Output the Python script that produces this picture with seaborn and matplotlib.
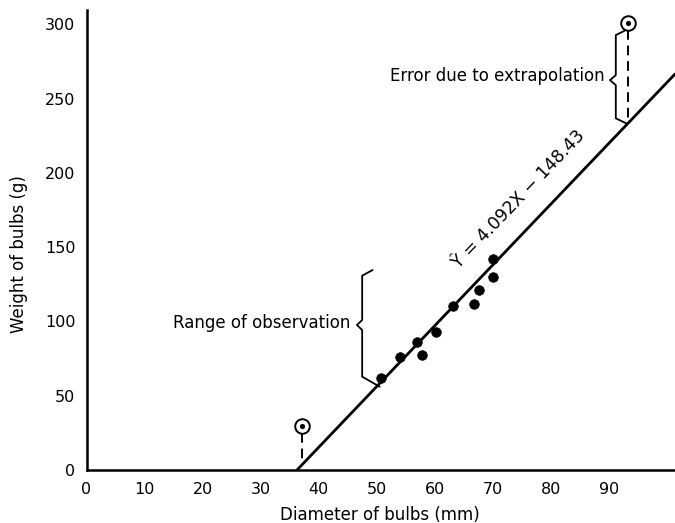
import numpy as np
import pandas as pd
import matplotlib
matplotlib.use("Agg")
import matplotlib.pyplot as plt
import seaborn as sns

# Observed bulbs: diameter (mm) and weight (g)
diameter_mm = [50.8, 54.0, 56.9, 57.8, 60.2, 63.1, 66.7, 67.7, 70.0, 70.0]
weight_g = [61.7, 76.2, 85.9, 77.4, 92.7, 110.6, 111.7, 121.1, 129.7, 142.0]

# Fitted regression  Y^ = 4.092 X - 148.43
slope = 4.092
intercept = -148.43

# Bulbs outside the observed range (circled)
outside_diameter = [37.2, 93.3]
outside_weight = [29.8, 301.0]

x_ticks = [0, 10, 20, 30, 40, 50, 60, 70, 80, 90]
y_ticks = [0, 50, 100, 150, 200, 250, 300]
x_limits = [0, 101.4]
y_limits = [0, 309.6]

# Brace outlines: (x, y) vertices
range_brace_x = [49.3, 47.5, 47.5, 46.6, 47.5, 47.5, 50.5]
range_brace_y = [134.6, 130.8, 101.0, 97.6, 94.2, 62.8, 56.1]
extrap_brace_x = [92.7, 91.2, 91.2, 90.2, 91.2, 91.2, 93.0]
extrap_brace_y = [295.6, 292.7, 265.8, 262.4, 259.0, 236.7, 233.3]

sns.set_style("white")
plt.rcParams["font.family"] = ["DejaVu Sans"]
for key in ["text.color", "axes.labelcolor", "xtick.color", "ytick.color"]:
    plt.rcParams[key] = "black"

fig = plt.figure(figsize=(6.75, 5.23), dpi=100)
ax = fig.add_axes([86.5 / 675, 53 / 523, 588.5 / 675, 460 / 523])

ax.set_xlim(*x_limits)
ax.set_ylim(*y_limits)

# Regression line from its x-intercept to the right edge
x_start = -intercept / slope
line_x = np.array([x_start, x_limits[1]])
line_df = pd.DataFrame({"x": line_x, "y": slope * line_x + intercept})
sns.lineplot(data=line_df, x="x", y="y", color="black", linewidth=2.0,
             ax=ax, legend=False)

# Observed points
obs = pd.DataFrame({"diameter": diameter_mm, "weight": weight_g})
sns.scatterplot(data=obs, x="diameter", y="weight", color="black", s=48,
                edgecolor="black", linewidth=0.5, ax=ax, zorder=5)

# Circled points beyond the range, with dashed drops to the fitted line
out = pd.DataFrame({"diameter": outside_diameter, "weight": outside_weight})
sns.scatterplot(data=out, x="diameter", y="weight", marker="o", s=110,
                facecolor="white", edgecolor="black", linewidth=1.4,
                ax=ax, zorder=6)
sns.scatterplot(data=out, x="diameter", y="weight", color="black", s=14,
                edgecolor="black", linewidth=0, ax=ax, zorder=7)
for xd, yd in zip(outside_diameter, outside_weight):
    y_fit = slope * xd + intercept
    ax.plot([xd, xd], [yd - 5.0, y_fit], color="black", linewidth=1.4,
            linestyle=(0, (5, 3)), zorder=4)

# Braces
ax.plot(range_brace_x, range_brace_y, color="black", linewidth=1.3,
        solid_joinstyle="round")
ax.plot(extrap_brace_x, extrap_brace_y, color="black", linewidth=1.3,
        solid_joinstyle="round")

ax.text(45.4, 98.9, "Range of observation", ha="right", va="center",
        fontsize=12)
ax.text(89.3, 265.1, "Error due to extrapolation", ha="right", va="center",
        fontsize=12)

# Equation written along the fitted line
p0 = ax.transData.transform((50, slope * 50 + intercept))
p1 = ax.transData.transform((100, slope * 100 + intercept))
angle = np.degrees(np.arctan2(p1[1] - p0[1], p1[0] - p0[0]))
x_lab = 77.8
ax.annotate("Ŷ = 4.092X − 148.43",
            xy=(x_lab, slope * x_lab + intercept),
            xytext=(-14, 13.5), textcoords="offset points",
            rotation=angle, rotation_mode="anchor",
            ha="center", va="center", fontsize=12.5)

# Axes styling
for side in ["top", "right"]:
    ax.spines[side].set_visible(False)
ax.spines["left"].set_linewidth(1.8)
ax.spines["bottom"].set_linewidth(1.8)
ax.spines["left"].set_color("black")
ax.spines["bottom"].set_color("black")

ax.set_xticks(x_ticks)
ax.set_yticks(y_ticks)
ax.set_xticklabels([str(v) for v in x_ticks])
ax.set_yticklabels([str(v) for v in y_ticks])
ax.tick_params(axis="x", direction="in", length=14.4, width=1.1,
               pad=8.5, labelsize=11.5, colors="black")
ax.tick_params(axis="y", direction="in", length=15.8, width=1.1,
               pad=8.0, labelsize=11.5, colors="black")

ax.set_xlabel("Diameter of bulbs (mm)", fontsize=12)
ax.set_ylabel("Weight of bulbs (g)", fontsize=12)
ax.xaxis.set_label_coords(0.498, -0.078)
ax.yaxis.set_label_coords(-0.100, 0.47)

fig.savefig("out.png", dpi=100)
